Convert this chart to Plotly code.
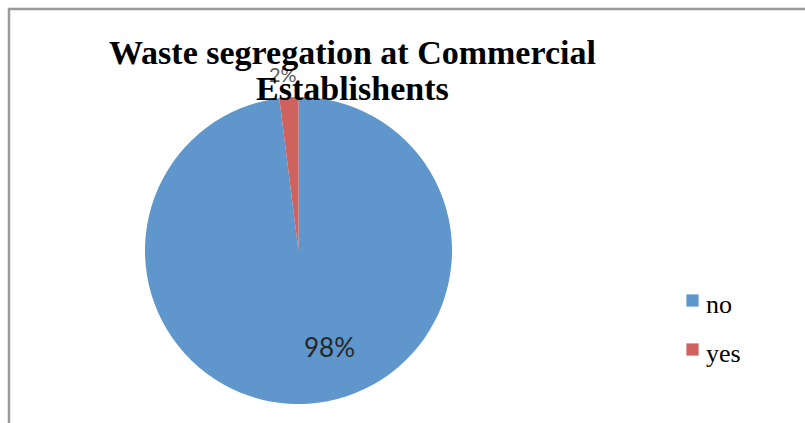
import plotly.graph_objects as go

W, H = 805, 423

# Chart data
categories = ["no", "yes"]
shares = [98, 2]
slice_colors = ["#5F96CB", "#CE625E"]
title_lines = ["Waste segregation at Commercial", "Establishents"]


def px_x(x):
    return x / W


def px_y(y):
    return 1 - y / H


fig = go.Figure(
    go.Pie(
        labels=categories,
        values=shares,
        sort=False,
        direction="clockwise",
        rotation=0,
        textinfo="none",
        hoverinfo="label+percent",
        marker=dict(colors=slice_colors, line=dict(width=0)),
        showlegend=False,
        domain=dict(x=[px_x(145), px_x(452)], y=[px_y(404), px_y(97)]),
    )
)

annotations = []

# Data labels: one inside the large slice, one just above the small slice
label_pos = [(329, 347, 26, "#262626"), (283, 74, 20, "#595959")]
for share, (lx, ly, size, col) in zip(shares, label_pos):
    annotations.append(dict(
        x=px_x(lx), y=px_y(ly), xref="paper", yref="paper",
        text=f"{share}%", showarrow=False, xanchor="center", yanchor="middle",
        font=dict(family="Lato", size=size, color=col),
    ))

# Two-line title
for line, cy in zip(title_lines, [53, 89]):
    annotations.append(dict(
        x=px_x(352), y=px_y(cy), xref="paper", yref="paper",
        text=f"<b>{line}</b>", showarrow=False, xanchor="center", yanchor="middle",
        font=dict(family="Liberation Serif", size=34, color="#000000"),
    ))

shapes = []
# Legend entries: colour swatch + label
for i, (cat, col) in enumerate(zip(categories, slice_colors)):
    top = 294 + i * 49
    shapes.append(dict(
        type="rect", xref="paper", yref="paper",
        x0=px_x(686), x1=px_x(699), y0=px_y(top + 13), y1=px_y(top),
        fillcolor=col, line=dict(width=0.8, color="#ffffff"),
    ))
    annotations.append(dict(
        x=px_x(704), y=px_y(top + 10), xref="paper", yref="paper",
        text=cat, showarrow=False, xanchor="left", yanchor="middle",
        font=dict(family="Liberation Serif", size=26, color="#000000"),
    ))

# Chart-area frame (top and left edges)
shapes.append(dict(
    type="path", xref="paper", yref="paper",
    path=f"M {px_x(9)},{px_y(423)} L {px_x(9)},{px_y(9)} L {px_x(805)},{px_y(9)}",
    line=dict(color="#9A9A9A", width=2.5),
))

fig.update_layout(
    width=W, height=H,
    margin=dict(l=0, r=0, t=0, b=0),
    paper_bgcolor="#ffffff",
    plot_bgcolor="#ffffff",
    annotations=annotations,
    shapes=shapes,
)

fig.write_html("out.html")
